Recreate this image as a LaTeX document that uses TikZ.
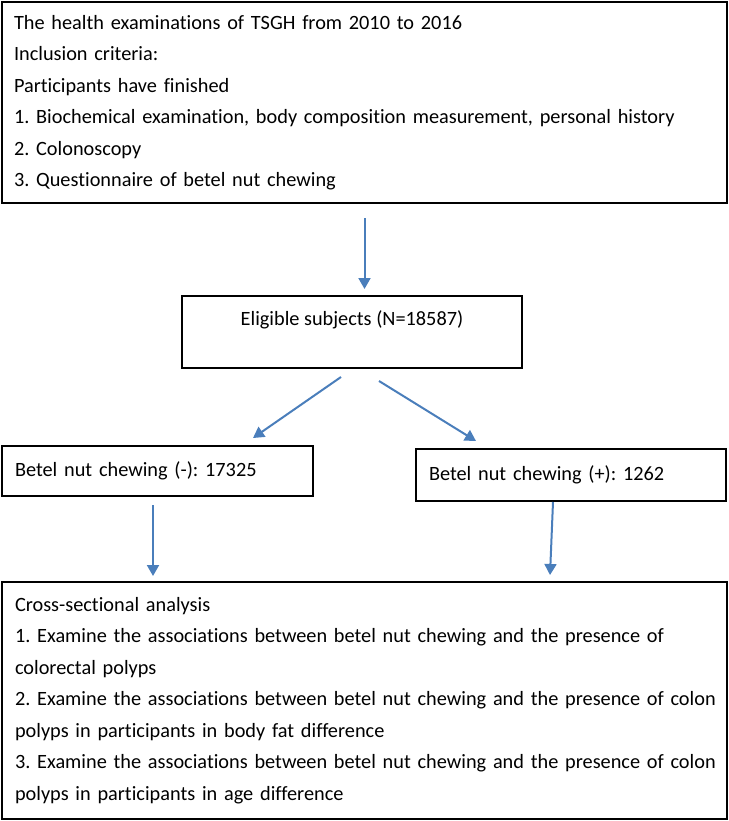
\documentclass[tikz,border=0pt]{standalone}
\usepackage{fontspec}
\setmainfont[Ligatures=NoCommon]{Carlito}
\usetikzlibrary{arrows.meta}
\definecolor{arrowblue}{RGB}{74,126,187}
\tikzset{
  box/.style={draw=black, line width=1.7pt, rectangle, anchor=north west, outer sep=0pt,
    font=\fontsize{20.3}{31.5}\selectfont\frenchspacing},
  leftbox/.style={box, align=left, inner xsep=12pt, inner ysep=0pt},
  arr/.style={draw=arrowblue, line width=2pt, -{Triangle[width=12pt,length=11pt]}}
}
\begin{document}
\begin{tikzpicture}[x=1pt,y=-1pt]
\useasboundingbox (0,0) rectangle (728,821);
\node[leftbox, text width=701pt, minimum height=201pt] (top) at (2,2)
  {The health examinations of TSGH from 2010 to 2016\\
   Inclusion criteria:\\
   Participants have finished\\
   \mbox{1. Biochemical examination, body composition measurement, personal history}\\
   2. Colonoscopy\\
   3. Questionnaire of betel nut chewing};
\node[box, align=center, minimum width=340pt, minimum height=72pt, inner sep=0pt,
  text height=14pt, text depth=28pt] (elig) at (182,296) {Eligible subjects (N=18587)};
\node[leftbox, inner xsep=13pt, text width=285pt, minimum height=50pt] (neg) at (2,446)
  {Betel nut chewing (-): 17325};
\node[leftbox, inner xsep=13pt, text width=284pt, minimum height=52pt] (pos) at (416,449)
  {Betel nut chewing (+): 1262};
\node[leftbox, inner xsep=13pt, text width=699pt, minimum height=237pt] (cross) at (2,582)
  {Cross-sectional analysis\\
   \mbox{1. Examine the associations between betel nut chewing and the presence of}\\
   colorectal polyps\\
   \mbox{2. Examine the associations between betel nut chewing and the presence of colon}\\
   polyps in participants in body fat difference\\
   \mbox{3. Examine the associations between betel nut chewing and the presence of colon}\\
   polyps in participants in age difference};
\draw[arr, shorten <=15pt, shorten >=7pt] (top.south) -- (top.south |- elig.north);
\draw[arr] ([shift={(-11,9)}]elig.south) -- ([shift={(95.5,-8)}]neg.north);
\draw[arr] ([shift={(27,13)}]elig.south) -- ([shift={(-95,-8)}]pos.north);
\draw[arr] ([shift={(-4.5,9)}]neg.south) -- ([shift={(-4.5,-6)}]neg.south |- cross.north);
\draw[arr] ([shift={(-18,1)}]pos.south) -- ([shift={(-21,-7)}]pos.south |- cross.north);
\end{tikzpicture}
\end{document}
